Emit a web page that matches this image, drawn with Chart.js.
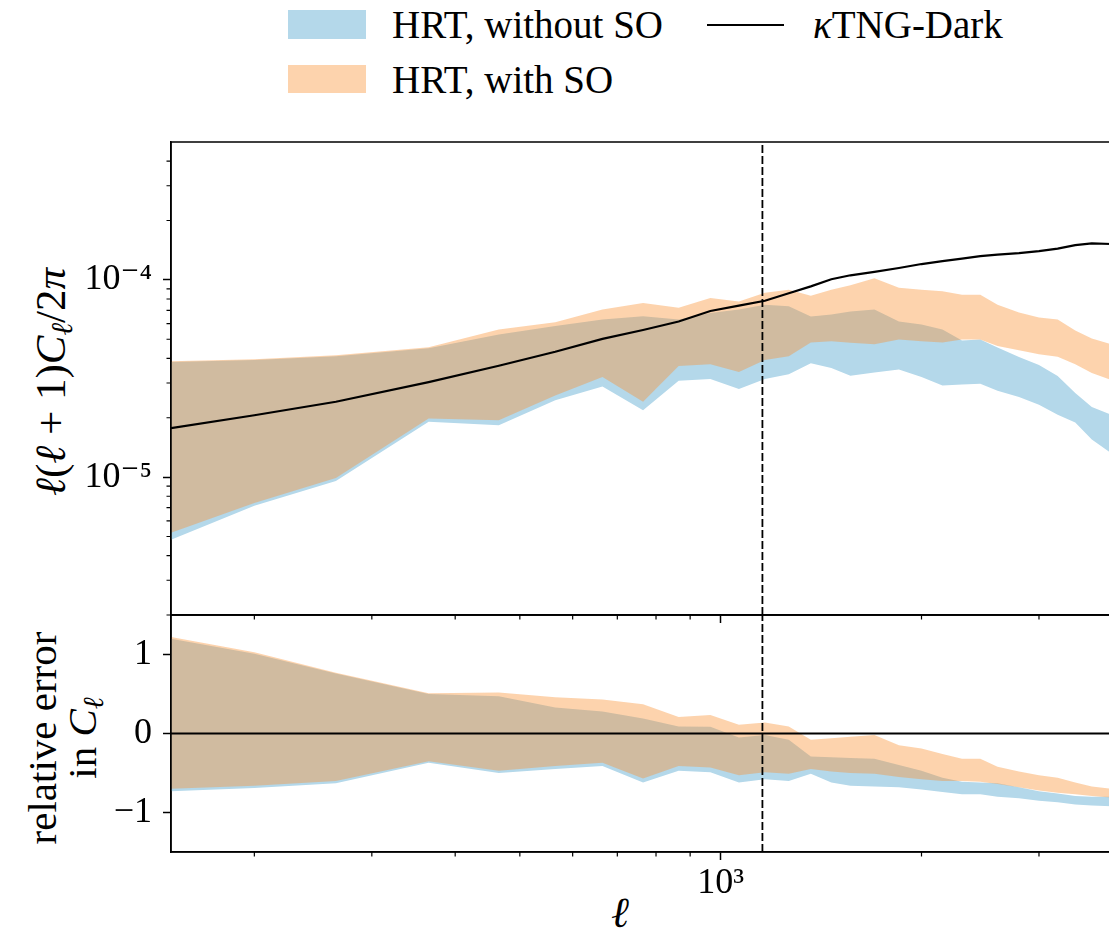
<!DOCTYPE html>
<html>
<head>
<meta charset="utf-8">
<script src="https://cdn.jsdelivr.net/npm/chart.js@4.4.1/dist/chart.umd.min.js"></script>
<style>
  body {
    margin: 0;
    width: 1109px;
    height: 937px;
    overflow: hidden;
    position: relative;
    background: #fff;
    color: #000;
    font-family: 'Liberation Serif', 'DejaVu Serif', serif;
  }
  canvas { position: absolute; left: 0; }
  #topChart { top: 130px; z-index: 2; }
  #bottomChart { top: 605px; z-index: 1; }
  .txt { position: absolute; white-space: nowrap; }
  .leg { font-size: 39px; line-height: 42px; }
  .axlbl { font-size: 43px; transform: translate(-50%, -50%) rotate(-90deg); text-align: center; }
  sub { font-size: 70%; vertical-align: -0.25em; line-height: 0; }
</style>
</head>
<body>

<!-- legend -->
<div class="txt" style="left:288px; top:10px; width:78px; height:29px; background:#b4d8ea;"></div>
<div class="txt leg" style="left:392px; top:4px;">HRT, without SO</div>
<div class="txt" style="left:707px; top:24px; width:77px; height:2px; background:#000;"></div>
<div class="txt leg" style="left:813px; top:4px;"><i>κ</i>TNG-Dark</div>
<div class="txt" style="left:288px; top:65px; width:78px; height:28px; background:rgba(250,145,50,0.4);"></div>
<div class="txt leg" style="left:392px; top:59px;">HRT, with SO</div>

<!-- axis titles -->
<div class="txt axlbl" style="left:50px; top:382px;"><i>ℓ</i>(<i>ℓ</i> + 1)<i>C</i><sub><i>ℓ</i></sub>/2<i>π</i></div>
<div class="txt axlbl" style="left:62px; top:738px; line-height:40px; font-size:41px;">relative error<br>in <i>C</i><sub><i>ℓ</i></sub></div>
<div class="txt" style="left:620px; top:912px; font-size:43px; transform:translate(-50%,-50%);"><i>ℓ</i></div>

<canvas id="topChart" width="1115" height="495"></canvas>
<canvas id="bottomChart" width="1115" height="332"></canvas>

<script>
// multipole bins
const ells = [150, 200, 265, 365, 465, 565, 665, 765, 865, 965, 1065, 1165, 1265, 1365, 1465,
  1565, 1700, 1850, 2000, 2150, 2300, 2450, 2600, 2800, 3000, 3200, 3400, 3600, 3850];

// kappaTNG-Dark power spectrum l(l+1)C_l/2pi
const theory = [1.77e-5, 2.06e-5, 2.41e-5, 3.03e-5, 3.67e-5, 4.32e-5, 5.02e-5, 5.57e-5, 6.15e-5, 6.95e-5,
  7.40e-5, 7.84e-5, 8.55e-5, 9.27e-5, 1.007e-4, 1.055e-4, 1.097e-4, 1.149e-4, 1.203e-4, 1.245e-4,
  1.282e-4, 1.32e-4, 1.343e-4, 1.367e-4, 1.40e-4, 1.44e-4, 1.50e-4, 1.53e-4, 1.52e-4];

// HRT without SO (band edges)
const noSoHigh = [3.83e-5, 3.92e-5, 4.10e-5, 4.50e-5, 5.29e-5, 5.83e-5, 6.29e-5, 6.54e-5, 6.29e-5, 6.79e-5,
  7.07e-5, 7.49e-5, 7.36e-5, 6.52e-5, 6.67e-5, 6.91e-5, 7.07e-5, 6.15e-5, 5.94e-5, 5.61e-5,
  4.93e-5, 4.99e-5, 4.54e-5, 4.06e-5, 3.70e-5, 3.26e-5, 2.67e-5, 2.27e-5, 2.07e-5];
const noSoLow = [4.82e-6, 7.15e-6, 9.55e-6, 1.91e-5, 1.83e-5, 2.45e-5, 2.88e-5, 2.18e-5, 3.08e-5, 3.14e-5,
  2.80e-5, 3.14e-5, 3.32e-5, 3.78e-5, 3.57e-5, 3.27e-5, 3.39e-5, 3.51e-5, 3.22e-5, 2.91e-5,
  2.95e-5, 2.97e-5, 2.74e-5, 2.55e-5, 2.33e-5, 2.07e-5, 1.89e-5, 1.55e-5, 1.32e-5];

// HRT with SO (band edges)
const soHigh = [3.87e-5, 3.96e-5, 4.15e-5, 4.55e-5, 5.61e-5, 6.10e-5, 7.07e-5, 7.64e-5, 7.23e-5, 8.09e-5,
  7.78e-5, 8.60e-5, 8.91e-5, 8.31e-5, 8.90e-5, 9.38e-5, 1.02e-4, 9.12e-5, 8.91e-5, 8.75e-5,
  8.41e-5, 8.41e-5, 7.49e-5, 6.83e-5, 6.44e-5, 6.29e-5, 5.54e-5, 5.05e-5, 4.71e-5];
const soLow = [5.23e-6, 7.40e-6, 9.89e-6, 1.98e-5, 1.94e-5, 2.59e-5, 3.22e-5, 2.41e-5, 3.66e-5, 3.74e-5,
  3.41e-5, 3.92e-5, 4.10e-5, 4.82e-5, 4.88e-5, 4.80e-5, 4.71e-5, 4.99e-5, 4.88e-5, 4.81e-5,
  4.99e-5, 4.99e-5, 4.62e-5, 4.40e-5, 4.20e-5, 4.08e-5, 3.74e-5, 3.37e-5, 3.11e-5];

// relative error in C_l
const relNoSoHigh = [1.20, 1.01, 0.76, 0.50, 0.47, 0.33, 0.28, 0.19, 0.09, 0.085, -0.05, -0.02, -0.08, -0.29, -0.30,
  -0.31, -0.32, -0.40, -0.47, -0.56, -0.61, -0.62, -0.63, -0.68, -0.73, -0.76, -0.79, -0.80, -0.80];
const relNoSoLow = [-0.73, -0.69, -0.63, -0.37, -0.50, -0.45, -0.41, -0.62, -0.47, -0.49, -0.62, -0.58, -0.60, -0.51, -0.62,
  -0.66, -0.67, -0.68, -0.71, -0.74, -0.77, -0.77, -0.80, -0.82, -0.85, -0.87, -0.90, -0.91, -0.92];
const relSoHigh = [1.22, 1.03, 0.77, 0.51, 0.52, 0.46, 0.43, 0.37, 0.21, 0.235, 0.11, 0.14, 0.09, -0.08, -0.06,
  -0.04, -0.02, -0.15, -0.19, -0.26, -0.32, -0.32, -0.42, -0.48, -0.53, -0.56, -0.62, -0.67, -0.70];
const relSoLow = [-0.70, -0.66, -0.60, -0.35, -0.47, -0.41, -0.37, -0.57, -0.41, -0.43, -0.53, -0.49, -0.51, -0.45, -0.48,
  -0.50, -0.51, -0.55, -0.58, -0.60, -0.60, -0.61, -0.64, -0.68, -0.72, -0.75, -0.77, -0.79, -0.81];

// scale cut (dashed line)
const ellCut = 1155;

// axes
const xRange = [150, 3900];
const xMajor = [1000];
const xMajorLabels = ['10³'];
const xMinor = [200, 300, 400, 500, 600, 700, 800, 900, 2000, 3000];
const yRange = [2e-6, 5e-4];
const yMajor = [1e-5, 1e-4];
const yMajorLabels = ['10⁻⁵', '10⁻⁴'];
const yMinor = [2e-6, 3e-6, 4e-6, 5e-6, 6e-6, 7e-6, 8e-6, 9e-6, 2e-5, 3e-5, 4e-5, 5e-5, 6e-5, 7e-5, 8e-5, 9e-5,
  2e-4, 3e-4, 4e-4];
const relRange = [-1.5, 1.5];
const relMajor = [-1, 0, 1];
const relMajorLabels = ['−1', '0', '1'];

const serif = "'Liberation Serif', 'DejaVu Serif', serif";
const blueFill = '#b4d8ea';
const orangeFill = 'rgba(250,145,50,0.4)';

const pts = (ys) => ells.map((l, i) => ({ x: l, y: ys[i] }));

// minor ticks + box frame
const frameTicks = {
    id: 'frameTicks',
    afterDraw(chart, args, opts) {
        const ctx = chart.ctx;
        const a = chart.chartArea;
        ctx.save();
        ctx.strokeStyle = '#000';
        ctx.lineWidth = 1.2;
        ctx.beginPath();
        (opts.x || []).forEach(v => {
            const px = chart.scales.x.getPixelForValue(v);
            ctx.moveTo(px, a.bottom);
            ctx.lineTo(px, a.bottom + 4.5);
        });
        (opts.y || []).forEach(v => {
            const py = chart.scales.y.getPixelForValue(v);
            ctx.moveTo(a.left, py);
            ctx.lineTo(a.left - 4.5, py);
        });
        ctx.stroke();
        ctx.lineWidth = 1.5;
        ctx.strokeRect(a.left, a.top, a.right - a.left, a.bottom - a.top);
        ctx.restore();
    }
};

function xAxis(showLabels, height) {
    return {
        type: 'logarithmic',
        min: xRange[0],
        max: xRange[1],
        afterBuildTicks: s => { s.ticks = xMajor.map(v => ({ value: v })); },
        afterFit: s => {
            s.height = height;
            s.paddingLeft = 0;
            s.paddingRight = 0;
        },
        ticks: {
            display: showLabels,
            autoSkip: false,
            maxRotation: 0,
            padding: 2,
            color: '#000',
            font: { family: serif, size: 36 },
            callback: (v, i) => xMajorLabels[i]
        },
        grid: { drawOnChartArea: false, drawTicks: true, tickLength: 8, tickWidth: 1.5, tickColor: '#000' },
        border: { display: true, color: '#000', width: 1.5 }
    };
}

function yAxis(type, range, major, labels) {
    return {
        type: type,
        min: range[0],
        max: range[1],
        afterBuildTicks: s => { s.ticks = major.map(v => ({ value: v })); },
        afterFit: s => {
            s.width = 171;
            s.paddingTop = 0;
            s.paddingBottom = 0;
        },
        ticks: {
            autoSkip: false,
            padding: 11,
            color: '#000',
            font: { family: serif, size: 36 },
            callback: (v, i) => labels[i]
        },
        grid: { drawOnChartArea: false, drawTicks: true, tickLength: 8, tickWidth: 1.5, tickColor: '#000' },
        border: { display: true, color: '#000', width: 1.5 }
    };
}

function band(ys, color, fill) {
    return {
        data: pts(ys),
        borderColor: 'rgba(0,0,0,0)',
        borderWidth: 0,
        backgroundColor: color,
        fill: fill,
        pointRadius: 0,
        tension: 0
    };
}

const common = {
    responsive: false,
    animation: false,
    plugins: { legend: { display: false }, tooltip: { enabled: false } }
};

// top panel: power spectrum
new Chart(document.getElementById('topChart'), {
    type: 'line',
    data: {
        datasets: [
            { data: pts(theory), borderColor: '#000', borderWidth: 2.2, pointRadius: 0, fill: false, order: 0 },
            { data: [{ x: ellCut, y: yRange[0] }, { x: ellCut, y: yRange[1] }], borderColor: '#000', borderWidth: 1.8,
              borderDash: [8, 3], pointRadius: 0, fill: false, order: 1 },
            Object.assign(band(soHigh, orangeFill, '+1'), { order: 2 }),
            Object.assign(band(soLow, orangeFill, false), { order: 3 }),
            Object.assign(band(noSoHigh, blueFill, '+1'), { order: 4 }),
            Object.assign(band(noSoLow, blueFill, false), { order: 5 })
        ]
    },
    options: Object.assign({}, common, {
        layout: { padding: { top: 12, right: 0, bottom: 0, left: 0 } },
        scales: { x: xAxis(false, 10), y: yAxis('logarithmic', yRange, yMajor, yMajorLabels) },
        plugins: Object.assign({}, common.plugins, { frameTicks: { x: xMinor, y: yMinor } })
    }),
    plugins: [frameTicks]
});

// bottom panel: relative error
new Chart(document.getElementById('bottomChart'), {
    type: 'line',
    data: {
        datasets: [
            { data: [{ x: xRange[0], y: 0 }, { x: xRange[1], y: 0 }], borderColor: '#000', borderWidth: 2,
              pointRadius: 0, fill: false, order: 0 },
            { data: [{ x: ellCut, y: relRange[0] }, { x: ellCut, y: relRange[1] }], borderColor: '#000', borderWidth: 1.8,
              borderDash: [8, 3], pointRadius: 0, fill: false, order: 1 },
            Object.assign(band(relSoHigh, orangeFill, '+1'), { order: 2 }),
            Object.assign(band(relSoLow, orangeFill, false), { order: 3 }),
            Object.assign(band(relNoSoHigh, blueFill, '+1'), { order: 4 }),
            Object.assign(band(relNoSoLow, blueFill, false), { order: 5 })
        ]
    },
    options: Object.assign({}, common, {
        layout: { padding: { top: 10, right: 0, bottom: 0, left: 0 } },
        scales: { x: xAxis(true, 85), y: yAxis('linear', relRange, relMajor, relMajorLabels) },
        plugins: Object.assign({}, common.plugins, { frameTicks: { x: xMinor, y: [] } })
    }),
    plugins: [frameTicks]
});
</script>
</body>
</html>
